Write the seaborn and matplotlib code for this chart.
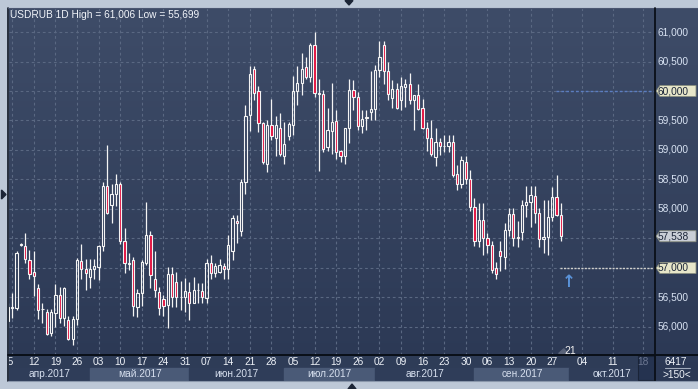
import numpy as np
import pandas as pd
import matplotlib
matplotlib.use("Agg")
import matplotlib.pyplot as plt
import seaborn as sns
from matplotlib.patches import Polygon, Rectangle

# ---------------- data ----------------
dates = pd.bdate_range("2017-04-04", "2017-09-29")

opens = [56.10, 56.32, 56.33, 57.39, 57.38, 57.14, 56.93, 56.66, 56.30, 56.26,
         55.89, 56.23, 56.54, 56.15, 56.12, 55.79, 56.14, 57.12, 56.99, 56.85,
         56.98, 57.02, 57.37, 58.39, 58.06, 58.25, 58.42, 57.45, 57.07, 57.14,
         56.34, 56.57, 57.08, 57.56, 56.81, 56.60, 56.47, 56.38, 56.89, 56.77,
         56.50, 56.50, 56.60, 56.40, 56.62, 56.61, 56.49, 57.08, 56.91, 56.94,
         57.04, 56.99, 57.28, 57.80, 57.63, 58.46, 59.60, 60.38, 60.00, 59.45,
         58.76, 59.42, 59.20, 59.38, 58.90, 59.23, 59.43, 60.00, 60.14, 60.40,
         60.23, 60.78, 59.97, 59.95, 59.05, 59.33, 59.49, 58.98, 58.90, 59.37,
         60.02, 59.89, 59.41, 59.54, 59.64, 59.70, 60.36, 60.78, 60.34, 59.88,
         60.03, 59.85, 60.07, 60.12, 59.84, 59.93, 59.71, 59.38, 59.21, 58.88,
         59.14, 59.06, 59.06, 59.14, 58.59, 58.43, 58.80, 58.50, 58.03, 57.46,
         57.82, 57.50, 57.39, 57.00, 57.29, 57.19, 57.65, 57.92, 57.53, 57.61,
         58.07, 58.11, 58.22, 57.93, 57.49, 57.53, 57.87, 58.20, 57.90]

highs = [56.40, 56.57, 57.28, 57.42, 57.59, 57.31, 57.29, 56.73, 56.40, 56.30,
         56.31, 56.73, 56.67, 56.67, 56.19, 56.19, 57.17, 57.41, 57.16, 57.15,
         57.16, 57.39, 58.46, 59.08, 58.42, 58.59, 58.46, 57.67, 57.25, 57.18,
         56.65, 57.14, 58.12, 57.62, 57.29, 56.68, 56.55, 57.02, 57.02, 56.94,
         56.78, 56.83, 56.77, 56.85, 56.75, 56.75, 57.16, 57.22, 57.09, 57.16,
         57.09, 57.56, 57.89, 57.89, 58.50, 59.77, 60.42, 60.42, 60.08, 59.47,
         59.51, 59.86, 59.57, 59.62, 59.48, 59.48, 60.25, 60.42, 60.64, 60.57,
         60.82, 61.006, 60.20, 60.02, 59.72, 60.14, 59.68, 59.00, 59.37, 60.20,
         60.19, 59.99, 59.67, 59.67, 60.34, 60.44, 60.85, 60.85, 60.50, 60.18,
         60.14, 60.24, 60.21, 60.30, 59.93, 60.12, 59.86, 59.48, 59.51, 59.37,
         59.20, 59.25, 59.25, 59.25, 58.75, 58.89, 58.90, 58.66, 58.18, 58.10,
         58.10, 57.60, 57.46, 57.10, 57.46, 57.77, 58.01, 58.01, 57.79, 58.15,
         58.39, 58.39, 58.39, 58.01, 58.15, 58.15, 58.38, 58.58, 58.10]

lows = [56.00, 56.16, 56.28, 57.38, 57.08, 56.81, 56.53, 56.13, 56.07, 55.86,
        55.84, 56.00, 56.07, 56.02, 55.78, 55.699, 56.04, 56.81, 56.63, 56.66,
        56.81, 56.80, 57.28, 57.91, 57.77, 58.05, 57.40, 56.91, 56.97, 56.19,
        56.17, 56.35, 57.05, 56.66, 56.51, 56.20, 56.19, 55.99, 56.34, 56.34,
        56.29, 56.26, 56.12, 56.40, 56.40, 56.40, 56.40, 56.81, 56.85, 56.92,
        56.82, 56.82, 57.14, 57.42, 57.55, 58.25, 59.32, 59.85, 59.31, 58.76,
        58.63, 59.17, 58.90, 58.89, 58.77, 59.17, 59.25, 59.76, 59.93, 60.20,
        60.15, 59.89, 58.65, 58.96, 58.99, 58.94, 58.84, 58.80, 58.76, 59.12,
        59.68, 59.34, 59.29, 59.34, 59.51, 59.51, 60.24, 60.12, 59.85, 59.71,
        59.69, 59.68, 59.73, 59.78, 59.34, 59.68, 59.35, 58.99, 58.89, 58.73,
        58.92, 58.97, 58.97, 58.55, 58.33, 58.35, 58.43, 57.97, 57.37, 57.35,
        57.22, 57.25, 56.92, 56.82, 56.95, 56.98, 57.54, 57.37, 57.36, 57.47,
        57.87, 57.70, 57.76, 57.36, 57.25, 57.22, 57.79, 57.88, 57.46]

closes = [56.34, 56.34, 57.26, 57.41, 57.16, 56.89, 56.86, 56.29, 56.31, 55.88,
          56.25, 56.54, 56.15, 56.66, 55.79, 56.14, 57.14, 56.99, 56.91, 56.98,
          57.03, 57.37, 58.39, 57.93, 58.25, 58.42, 57.45, 57.08, 57.09, 56.36,
          56.57, 57.10, 57.56, 56.88, 56.63, 56.32, 56.36, 56.89, 56.50, 56.50,
          56.51, 56.61, 56.40, 56.63, 56.63, 56.50, 57.08, 56.91, 57.04, 57.05,
          56.99, 57.39, 57.85, 57.76, 58.46, 59.58, 60.29, 59.97, 59.45, 58.80,
          59.42, 59.23, 59.42, 58.94, 59.11, 59.44, 60.00, 60.14, 60.38, 60.23,
          60.78, 59.97, 59.95, 59.01, 59.34, 59.47, 58.97, 58.89, 59.37, 60.02,
          59.89, 59.41, 59.52, 59.56, 59.69, 60.36, 60.57, 60.34, 59.95, 60.03,
          59.71, 60.08, 60.12, 59.84, 59.93, 59.69, 59.38, 59.21, 58.93, 59.14,
          59.06, 59.07, 59.14, 58.58, 58.43, 58.83, 58.50, 58.03, 57.46, 57.82,
          57.50, 57.39, 56.97, 56.90, 57.20, 57.65, 57.92, 57.50, 57.50, 58.07,
          58.11, 58.24, 57.93, 57.49, 57.53, 57.87, 58.20, 57.90, 57.538]

title_text = "USDRUB 1D High = 61,006 Low = 55,699"
price_ticks = [56.0, 56.5, 57.0, 57.5, 58.0, 58.5, 59.0, 59.5, 60.0, 60.5, 61.0]
month_names = ["янв", "фев", "мар", "апр", "май", "июн",
               "июл", "авг", "сен", "окт", "ноя", "дек"]
future_dates = pd.to_datetime(["2017-10-01", "2017-10-04", "2017-10-11", "2017-10-18"])
last_close_level = 57.538
blue_level = 60.0
white_level = 57.0
counter_label = "21"
corner_labels = ["6417", ">150<"]

# ---------------- style ----------------
sns.set_theme(style="dark")
plt.rcParams["font.family"] = ["Liberation Sans", "DejaVu Sans"]

W, H = 698, 389
fig = plt.figure(figsize=(W / 100, H / 100), dpi=100, facecolor="#bdc8d7")

def fr(x0, y0, x1, y1):
    return [x0 / W, (H - y1) / H, (x1 - x0) / W, (y1 - y0) / H]

def fmt(v):
    return f"{v:.3f}".replace(".", ",")

# gradient background (plot + right panel)
bg = fig.add_axes(fr(8.5, 8, 698, 381), zorder=0)
grad = np.linspace(0, 1, 256)[:, None]
top_c = np.array([0x3e, 0x4c, 0x68]) / 255
bot_c = np.array([0x2b, 0x38, 0x54]) / 255
img = top_c[None, None, :] * (1 - grad[:, :, None]) + bot_c[None, None, :] * grad[:, :, None]
bg.imshow(img, aspect="auto", extent=[0, 1, 0, 1])
bg.set_axis_off()

df = pd.DataFrame({"date": dates, "open": opens, "high": highs, "low": lows, "close": closes})
df["u"] = np.arange(len(df))
last_u = df["u"].iloc[-1]
last_date = df["date"].iloc[-1]

def upos(d):
    d = pd.Timestamp(d)
    if d <= last_date:
        return int(df.index[df["date"] >= d][0])
    return last_u + (d - last_date).days

x_left, x_right = 0.144, 149.73
y_low, y_high = 55.530, 61.407

ax = fig.add_axes(fr(8.5, 8, 654.7, 354.7), zorder=2)
ax.set_facecolor("none")
ax.set_xlim(x_left, x_right)
ax.set_ylim(y_low, y_high)
for s in ax.spines.values():
    s.set_visible(False)
ax.set_xticks([])
ax.set_yticks([])

grid_c = "#5a6882"
wed_u = list(df.loc[df["date"].dt.weekday == 2, "u"]) + [upos(d) for d in future_dates[1:]]
for xv in wed_u:
    ax.axvline(xv, color=grid_c, lw=0.8, ls=(0, (2.5, 2.5)), zorder=1)
for yv in price_ticks:
    ax.axhline(yv, color=grid_c, lw=0.8, ls=(0, (2.5, 2.5)), zorder=1)

o = df["open"].values
c = df["close"].values
h = df["high"].values
l = df["low"].values
u = df["u"].values
b_lo = np.minimum(o, c)
b_hi = np.maximum(o, c)
b_h = np.maximum(b_hi - b_lo, 0.012)
bear = c < o
wick_c = "#f4f4f4"
red_c = "#e3113f"
bw = 0.52
ax.vlines(u, b_hi, h, color=wick_c, lw=0.9, zorder=3)
ax.vlines(u, l, b_lo, color=wick_c, lw=0.9, zorder=3)
ax.bar(u[bear], b_h[bear], bottom=b_lo[bear], width=bw, color=red_c,
       edgecolor=wick_c, linewidth=0.8, zorder=4)
ax.bar(u[~bear], b_h[~bear], bottom=b_lo[~bear], width=bw, facecolor="none",
       edgecolor=wick_c, linewidth=0.8, zorder=4)

# level lines
ax.hlines(blue_level, last_u - 1.2, x_right, color="#5b7dc0", lw=1.0, ls=(0, (2, 1.5)), zorder=2)
ax.hlines(white_level, last_u - 0.2, x_right, color="#d0d0cc", lw=1.0, ls=(0, (1.5, 1)), zorder=2)

# signal arrow and counter
sig_u = upos(future_dates[0])
ax.text(sig_u - 0.1, 56.77, "\u2191", color="#5a92d8", fontsize=12, fontweight="bold",
        family="DejaVu Sans", ha="center", va="center", zorder=5)
ax.text(sig_u + 0.2, 55.60, counter_label, color="#f0f0f0", fontsize=7.5,
        ha="center", va="center", zorder=5)
ax.add_patch(Polygon([[sig_u - 2.5, 55.55], [sig_u - 1.3, 55.63], [sig_u - 0.4, 55.55]],
                     closed=True, color="#5a647a", zorder=4))

ax.text(0.0025, 0.979, title_text, transform=ax.transAxes, color="#f2f5fa", fontsize=7.3,
        ha="left", va="center")

# ---------------- date strip ----------------
axd = fig.add_axes(fr(8.5, 355, 654.7, 381), zorder=2)
axd.set_xlim(x_left, x_right)
axd.set_ylim(0, 1)
axd.set_facecolor("#2e3c57")
for s in axd.spines.values():
    s.set_visible(False)
axd.set_xticks([])
axd.set_yticks([])

month_starts = [x_left]
months = [4]
for m in range(5, 10):
    month_starts.append(upos(pd.Timestamp(2017, m, 1)))
    months.append(m)
month_starts.append(upos(future_dates[0]))
months.append(10)
month_ends = month_starts[1:] + [x_right]
for i, (a, b, m) in enumerate(zip(month_starts, month_ends, months)):
    col = "#4a5a77" if i % 2 == 1 else "#2f3d59"
    axd.add_patch(Rectangle((a, 0.04), b - a, 0.47, color=col, zorder=1))
    axd.text((a + b) / 2, 0.27, f"{month_names[m - 1]}.2017", color="#d6dfee",
             fontsize=7.3, ha="center", va="center", zorder=3)

all_wed = list(df.loc[df["date"].dt.weekday == 2, "date"]) + list(future_dates[1:])
for i, d in enumerate(all_wed[:-1]):
    xd = upos(d) - (0.9 if i == 0 else 0.0)
    axd.text(xd, 0.73, f"{d.day:02d}", color="#eef2f8", fontsize=7.3,
             ha="center", va="center", zorder=3, clip_on=True)
end_box_left = upos(future_dates[-1]) - 1.15
axd.add_patch(Rectangle((end_box_left, 0.03), x_right - end_box_left, 0.94,
                        facecolor="#253350", edgecolor="#1a2438", lw=0.8, zorder=4))
axd.text(upos(future_dates[-1]), 0.73, f"{future_dates[-1].day:02d}", color="#6b7690",
         fontsize=7.3, ha="center", va="center", zorder=5)

# ---------------- overlay (borders, labels, tags) ----------------
ov = fig.add_axes([0, 0, 1, 1], zorder=6)
ov.set_xlim(0, W)
ov.set_ylim(H, 0)
ov.set_axis_off()
ov.patch.set_alpha(0)

def ypx(v):
    return H - ax.transData.transform((0, v))[1]

ov.plot([8, 8], [7.5, 381], color="#0d1522", lw=1.2)
ov.plot([8, 698], [7.5, 7.5], color="#4a5570", lw=0.8)
ov.plot([8, 698], [355, 355], color="#0a0f18", lw=1.4)
ov.plot([655, 655], [7.5, 381], color="#0a0f18", lw=1.3)
ov.plot([8, 698], [381.2, 381.2], color="#8a97ab", lw=0.8)

tag_levels = [blue_level, last_close_level, white_level]
for v in price_ticks:
    if min(abs(v - t) for t in tag_levels) < 0.01 or abs(v - last_close_level) < 0.12:
        continue
    ov.text(658, ypx(v), fmt(v), color="#d9e3f3", fontsize=7.3, ha="left", va="center")

def tag(v, face):
    y = ypx(v)
    pts = [[656.2, y], [660, y - 5.5], [696, y - 5.5], [696, y + 5.5], [660, y + 5.5]]
    ov.add_patch(Polygon(pts, closed=True, facecolor=face, edgecolor="#8a8f80", lw=0.6))
    ov.text(658, y, fmt(v), color="#1b2538", fontsize=7.3, ha="left", va="center")

tag(blue_level, "#e7e6c9")
tag(last_close_level, "#c9ced6")
tag(white_level, "#e7e6c9")

ov.text(676, 362, corner_labels[0], color="#eef2f8", fontsize=7.3, ha="center", va="center")
ov.plot([665, 690], [368, 368], color="#a0aabb", lw=0.8)
ov.text(676.5, 375, corner_labels[1], color="#eef2f8", fontsize=7.3, ha="center", va="center")

ov.add_patch(Polygon([[345, 0.5], [353, 0.5], [349, 5]], closed=True, color="#1c2536"))
ov.add_patch(Polygon([[348, 389], [356, 389], [352, 384]], closed=True, color="#1c2536"))
ov.add_patch(Polygon([[1.5, 190], [1.5, 199], [6, 194.5]], closed=True, color="#1c2536"))

fig.savefig("out.png", dpi=100, facecolor=fig.get_facecolor())
